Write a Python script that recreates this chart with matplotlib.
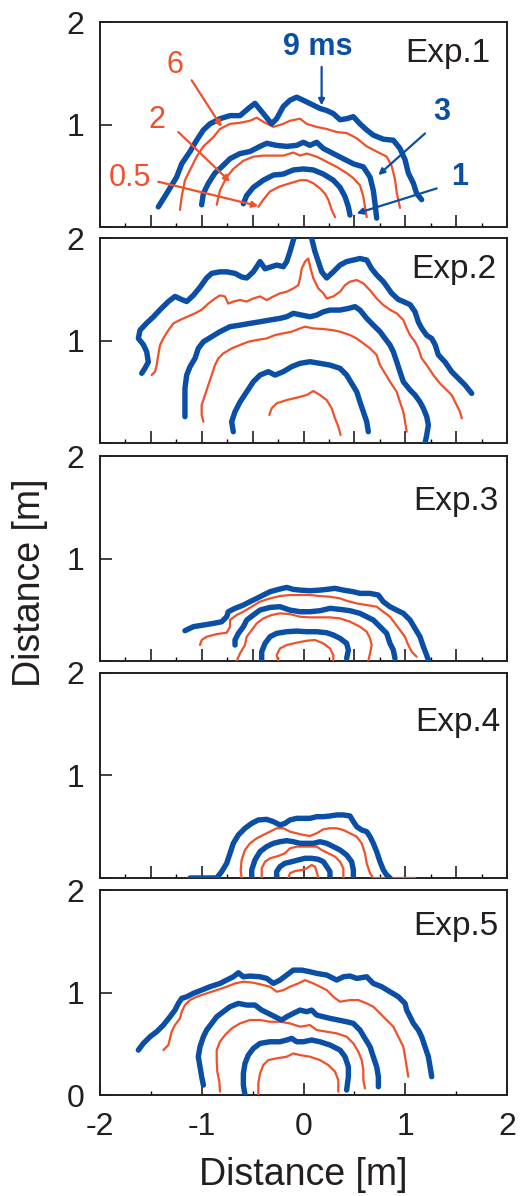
import matplotlib
matplotlib.use('Agg')
import matplotlib.pyplot as plt
from matplotlib.ticker import MultipleLocator

plt.rcParams['font.family'] = ['Liberation Sans', 'DejaVu Sans']
plt.rcParams['axes.unicode_minus'] = False

BLUE = '#0A4FA5'
RED = '#F0502A'

times = [0.5, 1, 2, 3, 6, 9]
exp_labels = ['Exp.1', 'Exp.2', 'Exp.3', 'Exp.4', 'Exp.5']

# ---- Exp.1 ----
e1_t05_x = [-0.444, -0.395, -0.329, -0.231, -0.133, -0.034, 0.031, 0.097, 0.162, 0.211, 0.244, 0.277, 0.310]
e1_t05_y = [0.20, 0.27, 0.35, 0.40, 0.43, 0.46, 0.46, 0.43, 0.38, 0.33, 0.27, 0.17, 0.10]
e1_t1_x = [-0.591, -0.559, -0.493, -0.395, -0.296, -0.198, -0.100, -0.002, 0.097, 0.195, 0.293, 0.359, 0.408, 0.441, 0.457]
e1_t1_y = [0.23, 0.31, 0.39, 0.46, 0.51, 0.52, 0.56, 0.57, 0.56, 0.52, 0.46, 0.39, 0.30, 0.20, 0.12]
e1_t2_x = [-0.853, -0.821, -0.755, -0.690, -0.591, -0.493, -0.395, -0.296, -0.198, -0.100, -0.034, 0.031, 0.129,
           0.228, 0.326, 0.424, 0.490, 0.555, 0.588, 0.604, 0.621]
e1_t2_y = [0.22, 0.36, 0.49, 0.57, 0.65, 0.69, 0.70, 0.70, 0.70, 0.73, 0.70, 0.72, 0.69,
           0.64, 0.59, 0.53, 0.48, 0.41, 0.30, 0.20, 0.10]
e1_t3_x = [-1.001, -0.984, -0.935, -0.870, -0.804, -0.722, -0.624, -0.526, -0.428, -0.362, -0.264, -0.165, -0.067,
           -0.002, 0.064, 0.129, 0.195, 0.293, 0.391, 0.490, 0.588, 0.654, 0.686, 0.703, 0.719]
e1_t3_y = [0.22, 0.33, 0.43, 0.53, 0.59, 0.67, 0.72, 0.74, 0.79, 0.82, 0.80, 0.79, 0.80,
           0.83, 0.80, 0.83, 0.77, 0.72, 0.67, 0.62, 0.59, 0.49, 0.36, 0.23, 0.09]
e1_t6_x = [-1.214, -1.197, -1.165, -1.115, -1.050, -0.984, -0.886, -0.821, -0.722, -0.624, -0.526, -0.460, -0.395,
           -0.296, -0.198, -0.133, -0.034, 0.031, 0.129, 0.228, 0.326, 0.424, 0.522, 0.621, 0.719, 0.817, 0.866,
           0.899, 0.916, 0.948]
e1_t6_y = [0.17, 0.30, 0.46, 0.56, 0.69, 0.79, 0.88, 0.96, 1.01, 1.02, 1.04, 1.07, 1.03,
           0.98, 1.01, 1.04, 1.06, 1.01, 0.98, 0.96, 0.93, 0.92, 0.87, 0.79, 0.74, 0.69, 0.60,
           0.47, 0.34, 0.19]
e1_t9_x = [-1.427, -1.345, -1.247, -1.197, -1.115, -1.050, -0.984, -0.919, -0.821, -0.722, -0.624, -0.542, -0.477,
           -0.395, -0.313, -0.264, -0.198, -0.133, -0.067, -0.002, 0.080, 0.162, 0.228, 0.293, 0.359, 0.424, 0.490,
           0.555, 0.621, 0.686, 0.785, 0.883, 0.948, 0.998, 1.030, 1.080, 1.112, 1.161]
e1_t9_y = [0.20, 0.33, 0.49, 0.62, 0.74, 0.85, 0.95, 1.01, 1.06, 1.09, 1.09, 1.16, 1.21,
           1.11, 1.01, 1.06, 1.18, 1.24, 1.27, 1.24, 1.20, 1.16, 1.14, 1.11, 1.05, 1.06, 1.08,
           1.01, 0.95, 0.90, 0.86, 0.85, 0.77, 0.66, 0.53, 0.43, 0.33, 0.27]

# ---- Exp.2 ----
e2_t05_x = [-0.336, -0.313, -0.264, -0.165, -0.067, 0.031, 0.097, 0.162, 0.228, 0.277, 0.310, 0.342, 0.365]
e2_t05_y = [0.273, 0.338, 0.387, 0.419, 0.442, 0.468, 0.507, 0.468, 0.419, 0.338, 0.24, 0.16, 0.078]
e2_t1_x = [-0.690, -0.706, -0.673, -0.624, -0.558, -0.493, -0.427, -0.345, -0.280, -0.198, -0.116, -0.034, 0.064,
           0.162, 0.261, 0.359, 0.424, 0.474, 0.523, 0.555, 0.588, 0.621, 0.637]
e2_t1_y = [0.11, 0.208, 0.305, 0.40, 0.50, 0.598, 0.663, 0.696, 0.663, 0.696, 0.745, 0.777, 0.793,
           0.777, 0.76, 0.728, 0.663, 0.58, 0.50, 0.40, 0.305, 0.208, 0.11]
e2_t2_x = [-0.984, -1.001, -1.001, -0.968, -0.935, -0.902, -0.870, -0.837, -0.788, -0.706, -0.624, -0.542, -0.460,
           -0.362, -0.280, -0.198, -0.116, -0.034, 0.015, 0.097, 0.195, 0.293, 0.359, 0.457, 0.523, 0.588, 0.654,
           0.719, 0.752, 0.801, 0.850, 0.916, 0.948, 0.981, 0.998, 1.014]
e2_t2_y = [0.208, 0.273, 0.37, 0.468, 0.566, 0.663, 0.76, 0.826, 0.874, 0.923, 0.956, 0.988, 1.005,
           1.02, 1.053, 1.07, 1.086, 1.118, 1.135, 1.118, 1.112, 1.10, 1.086, 1.053, 1.02, 0.972, 0.923,
           0.858, 0.76, 0.68, 0.598, 0.50, 0.40, 0.305, 0.208, 0.11]
e2_t3_x = [-1.165, -1.165, -1.165, -1.148, -1.115, -1.066, -1.034, -0.984, -0.902, -0.821, -0.722, -0.624, -0.526,
           -0.427, -0.329, -0.231, -0.165, -0.100, -0.018, 0.064, 0.130, 0.195, 0.261, 0.359, 0.441, 0.506, 0.555,
           0.621, 0.686, 0.752, 0.801, 0.850, 0.883, 0.916, 0.948, 0.981, 1.047, 1.096, 1.145, 1.178, 1.211, 1.227,
           1.211, 1.194]
e2_t3_y = [0.257, 0.40, 0.533, 0.663, 0.745, 0.826, 0.923, 0.988, 1.037, 1.086, 1.135, 1.15, 1.167,
           1.183, 1.20, 1.216, 1.232, 1.265, 1.248, 1.232, 1.248, 1.28, 1.297, 1.297, 1.313, 1.33, 1.297,
           1.216, 1.15, 1.086, 1.02, 0.956, 0.89, 0.793, 0.696, 0.598, 0.517, 0.468, 0.40, 0.338, 0.257, 0.175,
           0.078, -0.004]
e2_t6_x = [-1.492, -1.459, -1.443, -1.427, -1.410, -1.378, -1.328, -1.279, -1.214, -1.148, -1.066, -1.001, -0.935,
           -0.870, -0.821, -0.772, -0.739, -0.690, -0.624, -0.558, -0.493, -0.427, -0.362, -0.296, -0.231, -0.165,
           -0.100, -0.051, -0.034, -0.018, 0.015, 0.047, 0.070, 0.097, 0.146, 0.195, 0.228, 0.293, 0.359, 0.408,
           0.457, 0.523, 0.588, 0.654, 0.719, 0.785, 0.850, 0.916, 0.981, 1.014, 1.047, 1.096, 1.129, 1.161, 1.211,
           1.276, 1.342, 1.407, 1.456, 1.505, 1.538, 1.555]
e2_t6_y = [0.663, 0.696, 0.76, 0.86, 0.956, 1.02, 1.10, 1.167, 1.20, 1.23, 1.265, 1.30, 1.36,
           1.41, 1.44, 1.43, 1.36, 1.38, 1.395, 1.38, 1.41, 1.43, 1.395, 1.43, 1.46, 1.476,
           1.508, 1.54, 1.606, 1.70, 1.77, 1.80, 1.70, 1.606, 1.508, 1.46, 1.41, 1.43, 1.476, 1.54,
           1.574, 1.59, 1.557, 1.49, 1.41, 1.346, 1.30, 1.265, 1.20, 1.12, 1.053, 0.988, 0.923, 0.826, 0.76,
           0.663, 0.58, 0.517, 0.468, 0.37, 0.305, 0.24]
e2_t9_x = [-1.590, -1.558, -1.525, -1.541, -1.574, -1.623, -1.607, -1.541, -1.476, -1.410, -1.328, -1.263, -1.197,
           -1.148, -1.083, -1.017, -0.952, -0.902, -0.821, -0.755, -0.673, -0.608, -0.558, -0.493, -0.460, -0.427,
           -0.378, -0.313, -0.264, -0.198, -0.165, -0.133, -0.100, -0.010, 0.080, 0.113, 0.146, 0.179, 0.228,
           0.293, 0.359, 0.424, 0.490, 0.555, 0.621, 0.670, 0.719, 0.785, 0.867, 0.932, 0.981, 1.047, 1.096,
           1.129, 1.161, 1.211, 1.260, 1.293, 1.325, 1.391, 1.456, 1.522, 1.587, 1.653]
e2_t9_y = [0.68, 0.73, 0.79, 0.89, 0.96, 1.02, 1.10, 1.17, 1.23, 1.30, 1.38, 1.43, 1.40,
           1.38, 1.44, 1.52, 1.61, 1.655, 1.67, 1.67, 1.655, 1.62, 1.61, 1.67, 1.72, 1.77,
           1.70, 1.72, 1.736, 1.72, 1.77, 1.866, 1.98, 2.20, 1.996, 1.866, 1.77, 1.67, 1.61,
           1.67, 1.736, 1.77, 1.785, 1.80, 1.785, 1.70, 1.64, 1.574, 1.46, 1.40, 1.38, 1.35, 1.28,
           1.18, 1.12, 1.05, 1.02, 0.96, 0.86, 0.79, 0.696, 0.63, 0.566, 0.484]

# ---- Exp.3 ----
e3_t05_x = [-0.247, -0.264, -0.231, -0.165, -0.067, 0.031, 0.113, 0.195, 0.261, 0.293, 0.293]
e3_t05_y = [0.0, 0.058, 0.123, 0.156, 0.179, 0.198, 0.205, 0.172, 0.123, 0.058, 0.0]
e3_t1_x = [-0.411, -0.411, -0.378, -0.329, -0.264, -0.165, -0.067, 0.031, 0.130, 0.228, 0.293, 0.359, 0.424,
           0.441, 0.424]
e3_t1_y = [0.0, 0.091, 0.172, 0.237, 0.27, 0.286, 0.292, 0.286, 0.286, 0.276, 0.254, 0.221, 0.172,
           0.107, 0.026]
e3_t2_x = [-0.657, -0.624, -0.575, -0.558, -0.509, -0.460, -0.395, -0.313, -0.231, -0.133, -0.034, 0.064, 0.162,
           0.261, 0.359, 0.457, 0.555, 0.621, 0.654, 0.670, 0.654, 0.637]
e3_t2_y = [0.0, 0.075, 0.156, 0.237, 0.302, 0.367, 0.416, 0.449, 0.465, 0.458, 0.432, 0.426, 0.426,
           0.426, 0.416, 0.384, 0.335, 0.286, 0.221, 0.156, 0.075, 0.0]
e3_t3_x = [-0.673, -0.673, -0.640, -0.591, -0.558, -0.493, -0.428, -0.329, -0.231, -0.133, -0.034, 0.064, 0.162,
           0.261, 0.359, 0.457, 0.555, 0.621, 0.686, 0.752, 0.817, 0.850, 0.883, 0.899]
e3_t3_y = [0.156, 0.205, 0.27, 0.335, 0.40, 0.449, 0.497, 0.523, 0.53, 0.497, 0.481, 0.481, 0.491,
           0.514, 0.504, 0.491, 0.465, 0.432, 0.40, 0.335, 0.27, 0.172, 0.107, 0.026]
e3_t6_x = [-1.017, -1.001, -0.952, -0.853, -0.755, -0.722, -0.722, -0.657, -0.591, -0.509, -0.428, -0.329, -0.231,
           -0.133, -0.034, 0.064, 0.162, 0.261, 0.359, 0.424, 0.523, 0.621, 0.719, 0.784, 0.850, 0.899, 0.948,
           0.997, 1.030, 1.063, 1.112]
e3_t6_y = [0.156, 0.205, 0.237, 0.263, 0.276, 0.335, 0.40, 0.449, 0.481, 0.53, 0.579, 0.611, 0.634,
           0.644, 0.644, 0.644, 0.634, 0.627, 0.611, 0.588, 0.562, 0.546, 0.53, 0.481, 0.432, 0.367, 0.302,
           0.237, 0.156, 0.091, 0.042]
e3_t9_x = [-1.165, -1.083, -0.984, -0.886, -0.804, -0.755, -0.739, -0.673, -0.591, -0.526, -0.460, -0.395, -0.329,
           -0.247, -0.165, -0.100, -0.034, 0.064, 0.162, 0.228, 0.309, 0.391, 0.490, 0.555, 0.653, 0.735, 0.784,
           0.850, 0.915, 0.981, 1.047, 1.096, 1.145, 1.178, 1.210, 1.227]
e3_t9_y = [0.296, 0.335, 0.351, 0.367, 0.383, 0.432, 0.481, 0.514, 0.546, 0.579, 0.611, 0.644, 0.676,
           0.699, 0.718, 0.699, 0.692, 0.686, 0.692, 0.699, 0.709, 0.692, 0.676, 0.66, 0.66, 0.644, 0.579,
           0.53, 0.497, 0.465, 0.40, 0.318, 0.237, 0.14, 0.058, 0.01]

# ---- Exp.4 ----
e4_t05_x = [-0.149, -0.133, -0.084, -0.018, 0.031, 0.080, 0.113, 0.129, 0.146]
e4_t05_y = [0.0, 0.046, 0.068, 0.078, 0.094, 0.127, 0.111, 0.062, 0.0]
e4_t1_x = [-0.264, -0.264, -0.231, -0.182, -0.116, -0.051, 0.015, 0.080, 0.146, 0.195, 0.228, 0.260, 0.260]
e4_t1_y = [0.0, 0.062, 0.111, 0.143, 0.159, 0.176, 0.192, 0.192, 0.182, 0.159, 0.111, 0.062, 0.0]
e4_t2_x = [-0.411, -0.411, -0.378, -0.329, -0.247, -0.182, -0.133, -0.067, -0.002, 0.064, 0.129, 0.179, 0.244,
           0.310, 0.359, 0.392, 0.392]
e4_t2_y = [0.0, 0.094, 0.159, 0.192, 0.215, 0.241, 0.289, 0.306, 0.306, 0.306, 0.306, 0.273, 0.241,
           0.208, 0.159, 0.094, 0.0]
e4_t3_x = [-0.509, -0.509, -0.477, -0.427, -0.362, -0.296, -0.231, -0.165, -0.100, -0.034, 0.031, 0.097, 0.162,
           0.228, 0.293, 0.359, 0.424, 0.473, 0.490, 0.490]
e4_t3_y = [0.0, 0.078, 0.176, 0.257, 0.306, 0.338, 0.354, 0.364, 0.354, 0.338, 0.338, 0.338, 0.354,
           0.338, 0.306, 0.273, 0.224, 0.159, 0.078, 0.0]
e4_t6_x = [-0.608, -0.617, -0.608, -0.575, -0.526, -0.460, -0.395, -0.329, -0.264, -0.198, -0.133, -0.067, -0.002,
           0.064, 0.129, 0.195, 0.260, 0.326, 0.392, 0.457, 0.523, 0.572, 0.604, 0.621, 0.654, 0.686, 1.096]
e4_t6_y = [0.0, 0.078, 0.176, 0.273, 0.338, 0.387, 0.42, 0.452, 0.485, 0.485, 0.452, 0.436, 0.42,
           0.41, 0.436, 0.475, 0.485, 0.485, 0.468, 0.436, 0.403, 0.338, 0.241, 0.143, 0.046, 0.0, 0.0]
e4_t9_x = [-1.115, -0.853, -0.804, -0.755, -0.722, -0.690, -0.640, -0.575, -0.509, -0.444, -0.362, -0.296, -0.231,
           -0.182, -0.133, -0.067, -0.002, 0.064, 0.129, 0.195, 0.260, 0.326, 0.392, 0.457, 0.490, 0.523, 0.572,
           0.621, 0.654, 0.686, 0.719, 0.752, 0.785, 0.817, 0.850]
e4_t9_y = [0.0, 0.0, 0.062, 0.143, 0.241, 0.338, 0.42, 0.485, 0.533, 0.566, 0.572, 0.55, 0.517,
           0.533, 0.566, 0.582, 0.582, 0.582, 0.598, 0.598, 0.605, 0.615, 0.615, 0.605, 0.55, 0.501, 0.468,
           0.452, 0.403, 0.338, 0.257, 0.159, 0.078, 0.029, 0.0]

# ---- Exp.5 ----
e5_t05_x = [-0.444, -0.444, -0.427, -0.395, -0.346, -0.264, -0.165, -0.100, -0.034, 0.064, 0.162, 0.244, 0.310,
            0.342, 0.342]
e5_t05_y = [0.0, 0.114, 0.211, 0.293, 0.341, 0.358, 0.374, 0.406, 0.39, 0.374, 0.341, 0.293, 0.228,
            0.146, 0.033]
e5_t1_x = [-0.575, -0.591, -0.591, -0.575, -0.542, -0.493, -0.427, -0.329, -0.231, -0.165, -0.116, -0.067, -0.002,
           0.080, 0.162, 0.261, 0.359, 0.408, 0.441, 0.441, 0.424]
e5_t1_y = [0.0, 0.097, 0.211, 0.309, 0.39, 0.455, 0.504, 0.52, 0.52, 0.537, 0.553, 0.52, 0.52,
           0.537, 0.52, 0.488, 0.439, 0.374, 0.276, 0.179, 0.049]
e5_t2_x = [-0.821, -0.827, -0.847, -0.853, -0.853, -0.821, -0.772, -0.706, -0.624, -0.526, -0.427, -0.329, -0.231,
           -0.133, -0.034, 0.064, 0.130, 0.228, 0.326, 0.424, 0.490, 0.539, 0.572, 0.588, 0.588, 0.604]
e5_t2_y = [0.033, 0.13, 0.228, 0.341, 0.439, 0.52, 0.585, 0.65, 0.699, 0.732, 0.732, 0.715, 0.715,
           0.699, 0.667, 0.683, 0.634, 0.618, 0.602, 0.569, 0.504, 0.423, 0.341, 0.244, 0.146, 0.065]
e5_t3_x = [-0.984, -1.001, -1.017, -1.034, -1.017, -0.984, -0.952, -0.902, -0.853, -0.788, -0.722, -0.640, -0.558,
           -0.477, -0.411, -0.346, -0.280, -0.214, -0.165, -0.100, -0.034, 0.031, 0.080, 0.130, 0.195, 0.261,
           0.342, 0.424, 0.490, 0.555, 0.604, 0.654, 0.686, 0.719, 0.736, 0.736]
e5_t3_y = [0.097, 0.179, 0.276, 0.374, 0.472, 0.569, 0.634, 0.699, 0.764, 0.813, 0.862, 0.894, 0.878,
           0.878, 0.829, 0.797, 0.764, 0.732, 0.764, 0.797, 0.829, 0.813, 0.829, 0.780, 0.764, 0.748,
           0.732, 0.715, 0.699, 0.634, 0.553, 0.472, 0.374, 0.276, 0.179, 0.081]
e5_t6_x = [-1.377, -1.328, -1.312, -1.296, -1.263, -1.214, -1.197, -1.165, -1.115, -1.050, -0.952, -0.853, -0.755,
           -0.673, -0.591, -0.493, -0.395, -0.329, -0.264, -0.198, -0.133, -0.051, 0.015, 0.097, 0.162, 0.228,
           0.293, 0.359, 0.457, 0.539, 0.621, 0.686, 0.752, 0.817, 0.883, 0.932, 0.981, 0.998, 1.014, 1.030]
e5_t6_y = [0.439, 0.488, 0.553, 0.618, 0.683, 0.748, 0.813, 0.878, 0.927, 0.959, 0.992, 1.024, 1.057,
           1.089, 1.106, 1.096, 1.073, 1.057, 1.008, 1.024, 1.057, 1.089, 1.122, 1.089, 1.057, 1.024,
           0.959, 0.911, 0.927, 0.927, 0.894, 0.862, 0.797, 0.732, 0.667, 0.569, 0.472, 0.374, 0.276, 0.179]
e5_t9_x = [-1.623, -1.574, -1.508, -1.443, -1.377, -1.312, -1.263, -1.230, -1.197, -1.148, -1.083, -1.001, -0.919,
           -0.821, -0.755, -0.690, -0.640, -0.591, -0.526, -0.427, -0.362, -0.296, -0.231, -0.165, -0.100, -0.018,
           0.064, 0.130, 0.228, 0.326, 0.392, 0.457, 0.523, 0.621, 0.686, 0.768, 0.850, 0.932, 0.998, 1.014,
           1.047, 1.080, 1.129, 1.161, 1.194, 1.227, 1.244, 1.260]
e5_t9_y = [0.439, 0.504, 0.569, 0.618, 0.683, 0.764, 0.829, 0.894, 0.943, 0.959, 0.992, 1.024, 1.057,
           1.089, 1.122, 1.154, 1.193, 1.154, 1.161, 1.154, 1.138, 1.089, 1.122, 1.171, 1.219, 1.219,
           1.203, 1.187, 1.171, 1.122, 1.154, 1.161, 1.138, 1.154, 1.089, 1.057, 1.008, 0.959, 0.894, 0.829,
           0.764, 0.699, 0.634, 0.569, 0.472, 0.374, 0.276, 0.179]

experiments = [
    [(e1_t05_x, e1_t05_y), (e1_t1_x, e1_t1_y), (e1_t2_x, e1_t2_y), (e1_t3_x, e1_t3_y), (e1_t6_x, e1_t6_y), (e1_t9_x, e1_t9_y)],
    [(e2_t05_x, e2_t05_y), (e2_t1_x, e2_t1_y), (e2_t2_x, e2_t2_y), (e2_t3_x, e2_t3_y), (e2_t6_x, e2_t6_y), (e2_t9_x, e2_t9_y)],
    [(e3_t05_x, e3_t05_y), (e3_t1_x, e3_t1_y), (e3_t2_x, e3_t2_y), (e3_t3_x, e3_t3_y), (e3_t6_x, e3_t6_y), (e3_t9_x, e3_t9_y)],
    [(e4_t05_x, e4_t05_y), (e4_t1_x, e4_t1_y), (e4_t2_x, e4_t2_y), (e4_t3_x, e4_t3_y), (e4_t6_x, e4_t6_y), (e4_t9_x, e4_t9_y)],
    [(e5_t05_x, e5_t05_y), (e5_t1_x, e5_t1_y), (e5_t2_x, e5_t2_y), (e5_t3_x, e5_t3_y), (e5_t6_x, e5_t6_y), (e5_t9_x, e5_t9_y)],
]

# 图中位置（figure fraction）
ax_left, ax_width, ax_height = 0.1901, 0.7738, 0.1714
ax_bottoms = [0.8099, 0.6296, 0.4473, 0.2659, 0.0844]
label_pos = [(0.958, 0.85), (0.975, 0.848), (0.978, 0.78), (0.983, 0.76), (0.978, 0.82)]

fig = plt.figure(figsize=(5.26, 11.96), dpi=100)
axes = []
for i, curves in enumerate(experiments):
    ax = fig.add_axes([ax_left, ax_bottoms[i], ax_width, ax_height])
    axes.append(ax)
    for t, (xs, ys) in zip(times, curves):
        if t in (0.5, 2, 6):
            ax.plot(xs, ys, color=RED, lw=1.6, solid_capstyle='round', solid_joinstyle='round', zorder=3)
        else:
            ax.plot(xs, ys, color=BLUE, lw=3.9, solid_capstyle='round', solid_joinstyle='round', zorder=3)
    ax.set_xlim(-2, 2)
    ax.set_ylim(0, 2)
    ax.set_yticks([0, 1, 2])
    if i < 4:
        ax.set_yticklabels(['', '1', '2'])
        ax.xaxis.set_major_locator(MultipleLocator(0.5))
        ax.xaxis.set_minor_locator(MultipleLocator(0.25))
        ax.tick_params(axis='x', labelbottom=False)
    else:
        ax.set_yticklabels(['0', '1', '2'])
        ax.set_xticks([-2, -1, 0, 1, 2])
        ax.xaxis.set_minor_locator(MultipleLocator(0.5))
        ax.set_xlabel('Distance [m]', fontsize=27, labelpad=11, color='#231F20')
    ax.tick_params(which='major', direction='in', length=8.5, width=1.2, colors='#231F20',
                   labelsize=23, top=False, right=False)
    ax.tick_params(axis='x', which='major', pad=12)
    ax.tick_params(axis='y', which='major', pad=11)
    ax.tick_params(which='minor', direction='in', length=3, width=1, top=False, right=False)
    for sp in ax.spines.values():
        sp.set_linewidth(1.4)
        sp.set_color('#231F20')
    lx, ly = label_pos[i]
    ax.text(lx, ly, exp_labels[i], transform=ax.transAxes, ha='right', va='center',
            fontsize=24, color='#231F20')

fig.text(0.057, 0.513, 'Distance [m]', rotation=90, ha='center', va='center', fontsize=27, color='#231F20')

# Exp.1 时刻标注
ax = axes[0]
arrow_b = dict(arrowstyle='-|>', color=BLUE, lw=1.6, mutation_scale=9, shrinkA=0, shrinkB=0)
arrow_r = dict(arrowstyle='-|>', color=RED, lw=1.6, mutation_scale=9, shrinkA=0, shrinkB=0)
ax.text(0.143, 1.76, '9 ms', color=BLUE, fontsize=22, fontweight='bold', ha='center', va='center')
ax.annotate('', xy=(0.178, 1.19), xytext=(0.178, 1.565), arrowprops=arrow_b)
ax.text(1.358, 1.13, '3', color=BLUE, fontsize=22, fontweight='bold', ha='center', va='center')
ax.annotate('', xy=(0.735, 0.51), xytext=(1.194, 0.916), arrowprops=arrow_b)
ax.text(1.538, 0.49, '1', color=BLUE, fontsize=22, fontweight='bold', ha='center', va='center')
ax.annotate('', xy=(0.522, 0.136), xytext=(1.309, 0.38), arrowprops=arrow_b)
ax.text(-1.263, 1.58, '6', color=RED, fontsize=22, ha='center', va='center')
ax.annotate('', xy=(-0.804, 0.98), xytext=(-1.099, 1.435), arrowprops=arrow_r)
ax.text(-1.443, 1.045, '2', color=RED, fontsize=22, ha='center', va='center')
ax.annotate('', xy=(-0.722, 0.445), xytext=(-1.23, 0.93), arrowprops=arrow_r)
ax.text(-1.705, 0.477, '0.5', color=RED, fontsize=22, ha='center', va='center')
ax.annotate('', xy=(-0.444, 0.208), xytext=(-1.427, 0.445), arrowprops=arrow_r)

fig.savefig('out.png', dpi=100)
